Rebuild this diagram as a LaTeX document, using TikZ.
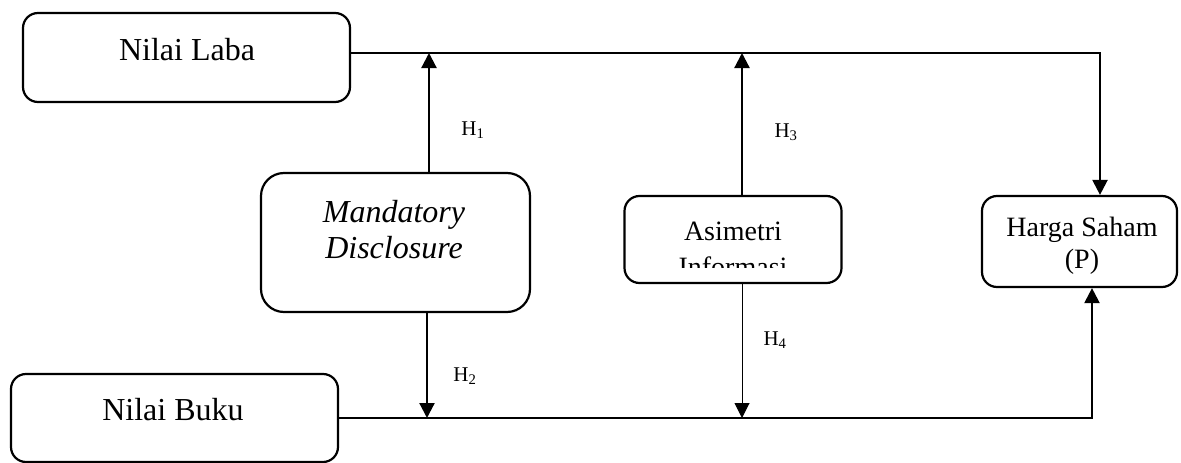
\documentclass[tikz,border=0pt]{standalone}
\usepackage{fontspec}
\setmainfont{Liberation Serif}
\usetikzlibrary{arrows.meta}

\tikzset{
  box/.style={draw, line width=2.2pt, rounded corners=#1, inner sep=0pt},
  box/.default=15pt,
  link/.style={line width=2.2pt},
  thinlink/.style={line width=1pt},
  tip/.style={-{Triangle[width=15pt,length=15pt]}},
  label/.style={inner sep=0pt, font=\fontsize{32}{37}\selectfont, align=center},
  smalllabel/.style={inner sep=0pt, font=\fontsize{28}{33}\selectfont, align=center},
  hyp/.style={inner sep=0pt, font=\fontsize{21}{24}\selectfont}
}

\begin{document}
\begin{tikzpicture}[x=1pt, y=-1pt]
  \useasboundingbox (0,0) rectangle (1181,463);

  % boxes
  \node[box, minimum width=327pt, minimum height=89pt] (laba) at (186.5,57.5) {};
  \node[box, minimum width=327pt, minimum height=88pt] (buku) at (174.5,418) {};
  \node[box=23pt, minimum width=269pt, minimum height=139pt] (mand) at (395.5,242.5) {};
  \node[box, minimum width=217pt, minimum height=87pt] (asim) at (733,239.5) {};
  \node[box, minimum width=195pt, minimum height=91pt] (harga) at (1079.5,241.5) {};

  % box texts
  \node[label] (labatext) at (187,50) {Nilai Laba};
  \node[label] (bukutext) at (173,410) {Nilai Buku};
  \node[label, font=\fontsize{32}{36}\selectfont\itshape] (mandtext) at (394,230) {Mandatory\\Disclosure};
  \node[smalllabel, font=\fontsize{28}{32}\selectfont] (hargatext) at (1082,246) {Harga Saham\\(P)};
  \begin{scope}
    \clip (625,196) rectangle (842,267);
    \node[smalllabel, font=\fontsize{28}{36}\selectfont] (asimtext) at (733,249) {Asimetri\\Informasi};
  \end{scope}

  % junction points on the two main lines
  \coordinate (j1) at (429,53);
  \coordinate (j3) at (742,53);
  \coordinate (top) at (1100,53);
  \coordinate (j2) at (427,418);
  \coordinate (j4) at (742,418);
  \coordinate (bot) at (1092,418);

  % main lines
  \draw[link, tip] (laba.east |- top) -- (top) -- (top |- harga.north);
  \draw[link, tip] (buku.east |- bot) -- (bot) -- (bot |- harga.south);

  % moderating arrows
  \draw[link, tip] (j1 |- mand.north) -- (j1);
  \draw[link, tip] (j2 |- mand.south) -- (j2);
  \draw[link, tip] (j3 |- asim.north) -- (j3);
  \draw[thinlink, tip] (j4 |- asim.south) -- (j4);

  % hypothesis labels
  \node[hyp] (h1) at (473,130) {H\textsubscript{1}};
  \node[hyp] (h2) at (465,376) {H\textsubscript{2}};
  \node[hyp] (h3) at (786,132) {H\textsubscript{3}};
  \node[hyp] (h4) at (775,340) {H\textsubscript{4}};
\end{tikzpicture}
\end{document}
